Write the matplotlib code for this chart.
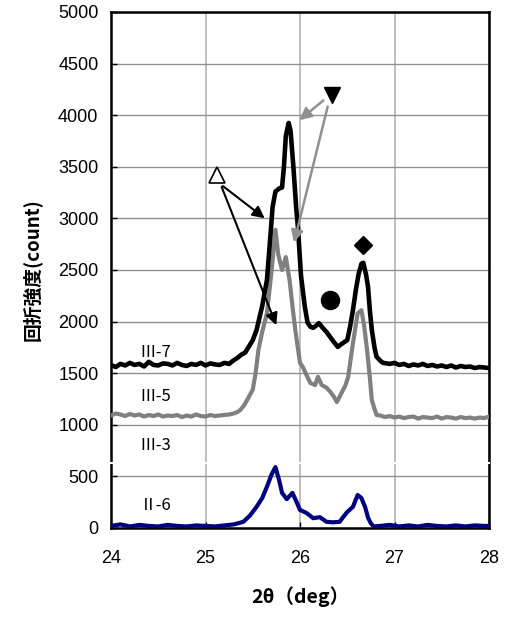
import matplotlib
matplotlib.use("Agg")
import matplotlib.pyplot as plt

plt.rcParams['font.family'] = ['Liberation Sans', 'Noto Sans CJK JP', 'DejaVu Sans']

# III-7 (black)
x_iii7 = [24.00, 24.05, 24.10, 24.15, 24.20, 24.25, 24.30, 24.35, 24.40, 24.45, 24.50, 24.55,
          24.60, 24.65, 24.70, 24.75, 24.80, 24.85, 24.90, 24.95, 25.00, 25.05, 25.10, 25.15,
          25.20, 25.25, 25.29, 25.34, 25.38, 25.42, 25.46, 25.50, 25.54, 25.60, 25.65, 25.68,
          25.71, 25.74, 25.78, 25.81, 25.83, 25.85, 25.88, 25.90, 25.93, 25.96, 25.98, 26.01,
          26.05, 26.08, 26.11, 26.14, 26.17, 26.20, 26.24, 26.28, 26.32, 26.36, 26.40, 26.45,
          26.50, 26.53, 26.56, 26.59, 26.62, 26.65, 26.67, 26.70, 26.72, 26.74, 26.76, 26.79,
          26.81, 26.85, 26.88, 26.95, 27.00, 27.05, 27.10, 27.15, 27.20, 27.25, 27.30, 27.35,
          27.40, 27.45, 27.50, 27.55, 27.60, 27.65, 27.70, 27.75, 27.80, 27.85, 27.90, 27.95, 28.00]
y_iii7 = [1580, 1560, 1590, 1575, 1600, 1580, 1590, 1565, 1610, 1580, 1575, 1595,
          1590, 1575, 1600, 1580, 1570, 1590, 1580, 1600, 1575, 1595, 1585, 1580,
          1600, 1590, 1620, 1650, 1680, 1700, 1760, 1820, 1918, 2150, 2403, 2750,
          3110, 3260, 3290, 3300, 3500, 3800, 3925, 3850, 3500, 3100, 2890, 2450,
          2150, 1990, 1950, 1940, 1960, 1985, 1940, 1900, 1850, 1800, 1755, 1790,
          1820, 1950, 2110, 2300, 2460, 2560, 2570, 2450, 2335, 2100, 1920, 1740,
          1660, 1620, 1600, 1590, 1600, 1580, 1590, 1570, 1585, 1575, 1590, 1570,
          1580, 1565, 1575, 1560, 1575, 1555, 1570, 1560, 1565, 1550, 1560, 1555, 1550]

# III-5 (gray)
x_iii5 = [24.00, 24.05, 24.10, 24.15, 24.20, 24.25, 24.30, 24.35, 24.40, 24.45, 24.50, 24.55,
          24.60, 24.65, 24.70, 24.75, 24.80, 24.85, 24.90, 24.95, 25.00, 25.05, 25.10, 25.15,
          25.20, 25.25, 25.30, 25.34, 25.37, 25.41, 25.44, 25.47, 25.50, 25.53, 25.56, 25.60,
          25.65, 25.70, 25.74, 25.77, 25.81, 25.85, 25.89, 25.92, 25.95, 26.00, 26.03, 26.07,
          26.11, 26.16, 26.19, 26.23, 26.28, 26.32, 26.36, 26.39, 26.44, 26.48, 26.51, 26.56,
          26.61, 26.65, 26.68, 26.71, 26.74, 26.76, 26.79, 26.81, 26.85, 26.90, 26.95, 27.00,
          27.05, 27.10, 27.15, 27.20, 27.25, 27.30, 27.35, 27.40, 27.45, 27.50, 27.55, 27.60,
          27.65, 27.70, 27.75, 27.80, 27.85, 27.90, 27.95, 28.00]
y_iii5 = [1090, 1110, 1100, 1085, 1105, 1090, 1100, 1080, 1095, 1085, 1100, 1080,
          1090, 1085, 1095, 1075, 1090, 1080, 1100, 1085, 1080, 1095, 1085, 1090,
          1095, 1100, 1110, 1125, 1145, 1190, 1240, 1290, 1340, 1500, 1725, 1900,
          2080, 2500, 2890, 2650, 2500, 2625, 2400, 2150, 1920, 1600, 1560, 1480,
          1405, 1385, 1465, 1385, 1360, 1320, 1270, 1220, 1310, 1380, 1465, 1790,
          2080, 2110, 1950, 1725, 1450, 1240, 1150, 1095, 1090, 1075, 1085, 1070,
          1080, 1065, 1075, 1080, 1060, 1075, 1070, 1065, 1080, 1060, 1075, 1070,
          1060, 1075, 1065, 1070, 1060, 1070, 1065, 1080]

# III-3 (white)
x_iii3 = [24.00, 25.00, 26.00, 27.00, 28.00]
y_iii3 = [630, 630, 630, 630, 630]

# II-6 (navy)
x_ii6 = [24.00, 24.10, 24.20, 24.30, 24.40, 24.50, 24.60, 24.70, 24.80, 24.90, 25.00, 25.10,
         25.20, 25.30, 25.40, 25.47, 25.54, 25.60, 25.65, 25.70, 25.74, 25.78, 25.81, 25.86,
         25.92, 25.96, 26.00, 26.07, 26.14, 26.21, 26.28, 26.35, 26.42, 26.46, 26.50, 26.56,
         26.61, 26.65, 26.69, 26.72, 26.75, 26.78, 26.85, 26.95, 27.05, 27.15, 27.25, 27.35,
         27.45, 27.55, 27.65, 27.75, 27.85, 27.95, 28.00]
y_ii6 = [20, 35, 15, 30, 20, 15, 30, 20, 15, 25, 20, 15,
         25, 35, 60, 120, 205, 290, 400, 520, 590, 460, 340, 280,
         340, 260, 175, 145, 95, 105, 60, 55, 60, 110, 155, 205,
         320, 290, 200, 100, 45, 15, 20, 30, 15, 25, 15, 30,
         20, 15, 25, 15, 25, 20, 20]

fig = plt.figure(figsize=(5.07, 6.17), dpi=100)
ax = fig.add_axes([111/507, 1 - 528/617, 378/507, 516/617])

ax.plot(x_iii3, y_iii3, color='white', lw=1.5, zorder=3, clip_on=False)
ax.plot(x_ii6, y_ii6, color='#000080', lw=3, zorder=4, solid_joinstyle='round')
ax.plot(x_iii5, y_iii5, color='#808080', lw=3, zorder=4, solid_joinstyle='round')
ax.plot(x_iii7, y_iii7, color='black', lw=3.3, zorder=5, solid_joinstyle='round')

ax.set_xlim(24, 28)
ax.set_ylim(0, 5000)
ax.set_xticks([24, 25, 26, 27, 28])
ax.set_yticks(range(0, 5001, 500))
ax.tick_params(direction='in', labelsize=13, length=4, width=1)
ax.tick_params(axis='x', pad=16)
ax.tick_params(axis='y', pad=9)
ax.xaxis.grid(True, color='#b4b4b4', lw=1.2)
ax.yaxis.grid(True, color='#909090', lw=1.0)
ax.set_axisbelow(True)
for s in ax.spines.values():
    s.set_linewidth(1.8)
    s.set_color('black')

cjk = ['Noto Sans CJK JP', 'DejaVu Sans']
ax.set_ylabel('回折強度(count)', family=cjk, fontweight='bold', fontsize=13.5, labelpad=12)
ax.set_xlabel('2θ（deg）', family=cjk, fontweight='bold', fontsize=14, labelpad=14)

# sample labels
for txt, yy in [('Ⅲ-7', 1700), ('Ⅲ-5', 1270), ('Ⅲ-3', 800), ('Ⅱ-6', 220)]:
    ax.text(24.47, yy, txt, family=cjk, fontsize=12, ha='center', va='center', zorder=6)

# phase markers
ax.plot([25.12], [3420], marker='^', ms=12, mfc='white', mec='black', mew=1.2, zorder=7)
ax.plot([26.34], [4195], marker='v', ms=12, color='black', zorder=7)
ax.plot([26.32], [2210], marker='o', ms=13, color='black', zorder=7)
ax.plot([26.67], [2740], marker='D', ms=9, color='black', zorder=7)

arr_k = dict(arrowstyle='-|>', color='black', lw=1.5, mutation_scale=18)
arr_g = dict(arrowstyle='-|>', color='#909090', lw=1.8, mutation_scale=18)
ax.annotate('', xy=(25.65, 2985), xytext=(25.16, 3330), arrowprops=arr_k, zorder=8)
ax.annotate('', xy=(25.76, 1940), xytext=(25.16, 3330), arrowprops=arr_k, zorder=8)
ax.annotate('', xy=(25.97, 3935), xytext=(26.27, 4160), arrowprops=arr_g, zorder=8)
ax.annotate('', xy=(25.93, 2740), xytext=(26.30, 4110), arrowprops=arr_g, zorder=8)

fig.savefig('out.png', dpi=100)
